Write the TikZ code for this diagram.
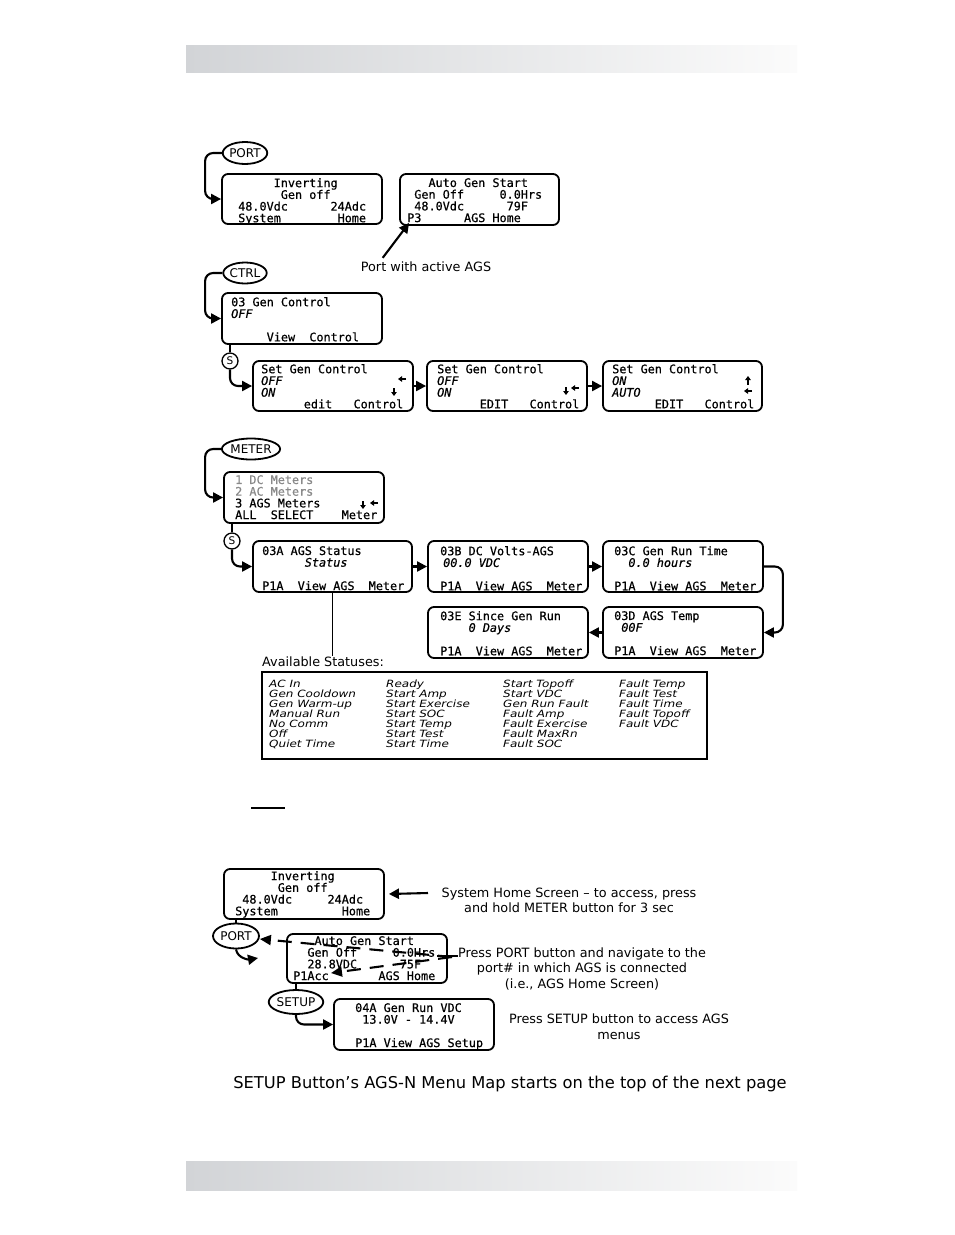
\documentclass[tikz,border=0pt]{standalone}
\usepackage{fontspec}
\setmainfont{DejaVu Sans}
\setmonofont{DejaVu Sans Mono}[RawFeature={embolden=0.6}]
\newfontfamily\statfont[FakeStretch=1.2]{DejaVu Sans}
\usetikzlibrary{arrows.meta,calc,shapes.geometric,fit}
\definecolor{barL}{HTML}{D2D4D7}
\definecolor{barR}{HTML}{FBFBFB}
\definecolor{dimtxt}{HTML}{8A8A8A}
\tikzset{
  scr/.style={draw, line width=1.8pt, rounded corners=6pt, inner sep=0pt},
  scrtxt/.style={anchor=north west, inner sep=0pt, align=left,
    font=\fontsize{11.8}{11.7}\selectfont\ttfamily},
  btn/.style={draw, ellipse, line width=1.8pt, inner sep=0pt, font=\fontsize{12}{12}\selectfont},
  sbtn/.style={draw, circle, line width=1.3pt, inner sep=0pt, minimum size=16pt, font=\fontsize{10.5}{10.5}\selectfont},
  conn/.style={line width=2.1pt, -{Triangle[length=10pt,width=10pt]}},
  dconn/.style={line width=2.1pt, dash pattern=on 14pt off 9pt, -{Triangle[length=11pt,width=10pt]}},
  plain/.style={line width=2pt},
  tiny/.style={line width=1.5pt, -{Triangle[length=4pt,width=5.5pt]}},
  lbl/.style={inner sep=0pt, font=\fontsize{12.8}{15.5}\selectfont},
  stat/.style={anchor=north west, inner sep=0pt, align=left,
    font=\fontsize{10}{10}\selectfont\statfont\itshape},
}
\newcommand\scrbox[3]{\node[scr, fit={#2 #3}] (#1) {};}
\begin{document}
\lineskiplimit=-20pt\relax
\begin{tikzpicture}[x=1pt,y=-1pt]
\fill[white] (0,0) rectangle (954,1235);
\useasboundingbox (0,0) rectangle (954,1235);
% bars
\shade[left color=barL, right color=barR] (186,45) rectangle (797,72);
\shade[left color=barL, right color=barR] (186,1161) rectangle (797,1190);

% ---------- PORT section
\node[btn, minimum width=40pt, minimum height=22pt] (port) at (245,153) {PORT};
\scrbox{inv}{(222,174)}{(382,224)}
\node[scrtxt] (invt) at (238,178) {\strut~~~~~Inverting\\~~~~~~Gen off\\48.0Vdc~~~~~~24Adc\\System~~~~~~~~Home};
\scrbox{ags}{(400,174)}{(559,225)}
\node[scrtxt] (agst) at (407,178) {\strut~~~Auto Gen Start\\~Gen Off~~~~~0.0Hrs\\~48.0Vdc~~~~~~79F\\P3~~~~~~AGS Home};
\draw[conn, rounded corners=8pt] (port.west) -| ([xshift=-16]inv.west) -- (inv.west);
\node[lbl] (paw) at (426,267) {Port with active AGS};
\draw[conn] ([xshift=22,yshift=4]paw.north west) -- ([xshift=10,yshift=3]ags.south west);

% ---------- CTRL section
\node[btn, minimum width=39pt, minimum height=21pt] (ctrl) at (245,273) {CTRL};
\scrbox{genctl}{(222,293)}{(382,344)}
\node[scrtxt] (genctlt) at (231,297) {\strut 03 Gen Control\\{\itshape OFF}\\~\\~~~~~View~~Control};
\draw[conn, rounded corners=8pt] (ctrl.west) -| ([xshift=-16]genctl.west) -- (genctl.west);
\node[sbtn] (s1) at (230,361) {S};
\draw[plain] (s1.north |- genctl.south) -- (s1.north);
\scrbox{set1}{(253,361)}{(413,411)}
\node[scrtxt] (set1t) at (261,364) {\strut Set Gen Control\\{\itshape OFF}\\{\itshape ON}\\~~~~~~edit~~~Control};
\scrbox{set2}{(427,361)}{(587,411)}
\node[scrtxt] (set2t) at (437,364) {\strut Set Gen Control\\{\itshape OFF}\\{\itshape ON}\\~~~~~~EDIT~~~Control};
\scrbox{set3}{(603,361)}{(762,411)}
\node[scrtxt] (set3t) at (612,364) {\strut Set Gen Control\\{\itshape ON}\\{\itshape AUTO}\\~~~~~~EDIT~~~Control};
\draw[conn, rounded corners=8pt] (s1.south) |- (set1.west);
\draw[conn] (set1.east) -- (set2.west);
\draw[conn] (set2.east) -- (set3.west);
\draw[tiny] (406,379) -- (398,379);
\draw[tiny] (394,388) -- (394,396);
\draw[tiny] (566,387) -- (566,395);
\draw[tiny] (579,388) -- (571,388);
\draw[tiny] (748,385) -- (748,376);
\draw[tiny] (752,391) -- (744,391);

% ---------- METER section
\node[btn, minimum width=44pt, minimum height=21pt] (meter) at (251,449) {METER};
\scrbox{meters}{(224,472)}{(384,523)}
\node[scrtxt] (meterst) at (235,475) {\strut{\color{dimtxt}1 DC Meters}\\{\color{dimtxt}2 AC Meters}\\3 AGS Meters\\ALL~~SELECT~~~~Meter};
\draw[tiny] (363,501) -- (363,509);
\draw[tiny] (378,503) -- (370,503);
\draw[conn, rounded corners=8pt] (meter.west) -| ([xshift=-18]meters.west) -- (meters.west);
\node[sbtn] (s2) at (232,541) {S};
\draw[plain] (s2.north |- meters.south) -- (s2.north);
\scrbox{a3}{(253,541)}{(412,592)}
\node[scrtxt] (a3t) at (262,546) {\strut 03A AGS Status\\~~~~~~{\itshape Status}\\~\\P1A~~View AGS~~Meter};
\scrbox{b3}{(428,541)}{(588,592)}
\node[scrtxt] (b3t) at (440,546) {\strut 03B DC Volts-AGS\\\hspace*{3pt}{\itshape 00.0 VDC}\\~\\P1A~~View AGS~~Meter};
\scrbox{c3}{(603,541)}{(763,592)}
\node[scrtxt] (c3t) at (614,546) {\strut 03C Gen Run Time\\~~{\itshape 0.0 hours}\\~\\P1A~~View AGS~~Meter};
\scrbox{d3}{(603,607)}{(763,658)}
\node[scrtxt] (d3t) at (614,611) {\strut 03D AGS Temp\\~{\itshape 00F}\\~\\P1A~~View AGS~~Meter};
\scrbox{e3}{(428,607)}{(588,658)}
\node[scrtxt] (e3t) at (440,611) {\strut 03E Since Gen Run\\~~~~{\itshape 0 Days}\\~\\P1A~~View AGS~~Meter};
\draw[conn, rounded corners=8pt] (s2.south) |- (a3.west);
\draw[conn] (a3.east) -- (b3.west);
\draw[conn] (b3.east) -- (c3.west);
\draw[conn, rounded corners=8pt] (c3.east) -- ++(19,0) |- (d3.east);
\draw[conn] (d3.west) -- (e3.east);

\node[lbl, anchor=west] (avl) at (262,662) {Available Statuses:};
\draw[line width=1.1pt] (a3.south) -- ([yshift=1]a3.south |- avl.north);
\node[draw, line width=1.3pt, inner sep=0pt, fit={(262,672) (707,759)}] (stbox) {};
\node[stat] (st1) at (269,680) {\strut AC In\\Gen Cooldown\\Gen Warm-up\\Manual Run\\No Comm\\Off\\Quiet Time};
\node[stat] (st2) at (386,680) {\strut Ready\\Start Amp\\Start Exercise\\Start SOC\\Start Temp\\Start Test\\Start Time};
\node[stat] (st3) at (503,680) {\strut Start Topoff\\Start VDC\\Gen Run Fault\\Fault Amp\\Fault Exercise\\Fault MaxRn\\Fault SOC};
\node[stat] (st4) at (619,680) {\strut Fault Temp\\Fault Test\\Fault Time\\Fault Topoff\\Fault VDC};

% ---------- bottom section
\draw[line width=2pt] (251,808) -- (285,808);
\scrbox{inv2}{(224,869)}{(384,919)}
\node[scrtxt] (inv2t) at (235,871) {\strut~~~~~Inverting\\~~~~~~Gen off\\~48.0Vdc~~~~~24Adc\\System~~~~~~~~~Home};
\node[lbl, align=center] (sysh) at (569,900.5) {System Home Screen – to access, press\\and hold METER button for 3 sec};
\coordinate (sysa) at (428,893);
\draw[conn] (sysa) -- ([xshift=4]inv2.east);
\node[btn, minimum width=46pt, minimum height=25pt] (port2) at (236,936) {PORT};
\draw[plain] (port2.north |- inv2.south) -- (port2.north);
\coordinate (pc) at (258,958);
\draw[conn] (port2.south) to[out=-80,in=190] (pc);
\scrbox{ags2}{(287,934)}{(447,983)}
\node[scrtxt] (ags2t) at (293,936) {\strut~~~Auto Gen Start\\~~Gen Off~~~~~0.0Hrs\\~~28.8VDC~~~~~~75F\\P1Acc~~~~~~~AGS Home};
\coordinate (dz) at (452,957);
\coordinate (pacc) at (331,973);
\draw[dconn] (dz) -- ([yshift=-3]port2.east);
\draw[dconn] (dz) -- (pacc);
\draw[plain] (437,956) -- (458,956);
\node[lbl, align=center] (pp) at (582,968.5) {Press PORT button and navigate to the\\port\# in which AGS is connected\\(i.e., AGS Home Screen)};
\node[btn, minimum width=43pt, minimum height=24pt] (setup) at (296,1002) {SETUP};
\draw[plain] (setup.north |- ags2.south) -- (setup.north);
\scrbox{a04}{(334,999)}{(494,1050)}
\node[scrtxt] (a04t) at (355,1003) {\strut 04A Gen Run VDC\\~13.0V - 14.4V\\~\\P1A View AGS Setup};
\draw[conn, rounded corners=8pt] (setup.south) |- (a04.west);
\node[lbl, align=center] (ps) at (619,1026.5) {Press SETUP button to access AGS\\menus};
\node[inner sep=0pt, font=\fontsize{16.3}{18}\selectfont] (btm) at (510,1084) {SETUP Button’s AGS-N Menu Map starts on the top of the next page};
\end{tikzpicture}
\end{document}
